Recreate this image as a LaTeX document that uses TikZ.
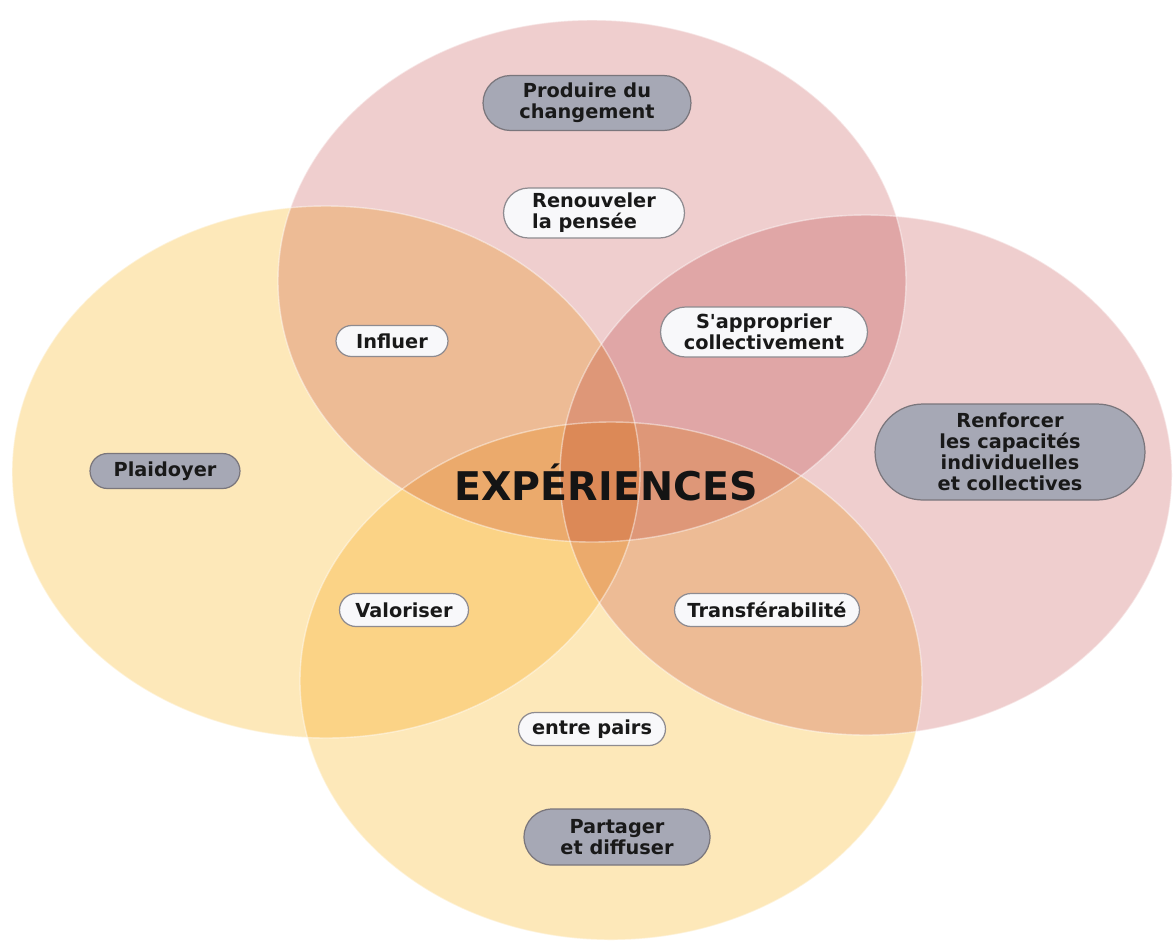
\documentclass[tikz,border=0pt]{standalone}
\usepackage{fontspec}
\setmainfont{DejaVu Sans}
\usepackage{tikz}
\usetikzlibrary{shapes.misc}
\definecolor{softpink}{RGB}{239,206,206}
\definecolor{softyellow}{RGB}{253,232,185}
\definecolor{pillgray}{RGB}{166,168,181}
\definecolor{pillline}{RGB}{122,118,124}
\definecolor{pillwhite}{RGB}{248,248,250}
\tikzset{
  vnode/.style={rounded rectangle,draw=pillline,fill=pillgray,line width=0.7pt,align=center,
    inner sep=2pt,font=\fontsize{11}{12}\selectfont\bfseries,text=black!90},
  vnodew/.style={vnode,fill=pillwhite,draw=pillline!85},
  rim/.style={draw=white,draw opacity=0.45,line width=0.8pt}
}

\begin{document}
\begin{tikzpicture}[x=0.02cm,y=-0.02cm]
  \useasboundingbox (0,0) rectangle (1173,941);

  % four overlapping zones, colours multiply where they meet
  \begin{scope}[blend group=multiply]
    \fill[softpink] (592,281) ellipse [x radius=314,y radius=261];
    \fill[softpink] (866,475) ellipse [x radius=306,y radius=260];
    \fill[softyellow] (326,472) ellipse [x radius=314,y radius=266];
    \fill[softyellow] (611,681) ellipse [x radius=311,y radius=259];
  \end{scope}
  \draw[rim] (592,281) ellipse [x radius=314,y radius=261];
  \draw[rim] (866,475) ellipse [x radius=306,y radius=260];
  \draw[rim] (326,472) ellipse [x radius=314,y radius=266];
  \draw[rim] (611,681) ellipse [x radius=311,y radius=259];

  \node[vnode,minimum width=4.3cm,minimum height=1.1cm] (change) at (587,103) {Produire du\\changement};
  \node[vnodew,align=left,minimum width=3.76cm,minimum height=1.0cm] (pensee) at (594,213) {Renouveler\\la pensée};
  \node[vnodew,minimum width=2.38cm,minimum height=0.62cm] (influer) at (392,341) {Influer};
  \node[vnodew,minimum width=4.28cm,minimum height=1.0cm] (appro) at (764,332) {S\textquotesingle approprier\\collectivement};
  \node[vnode,minimum width=5.54cm,minimum height=1.92cm] (capa) at (1010,452) {Renforcer\\les capacités\\individuelles\\et collectives};
  \node[vnode,minimum width=3.14cm,minimum height=0.7cm] (plaid) at (165,471) {Plaidoyer};
  \node[font=\fontsize{22.5}{24}\selectfont\bfseries,text=black!92] (exp) at (606,482) {EXPÉRIENCES};
  \node[vnodew,minimum width=2.72cm,minimum height=0.66cm] (valo) at (404,610) {Valoriser};
  \node[vnodew,minimum width=3.84cm,minimum height=0.66cm] (transf) at (767,610) {Transférabilité};
  \node[vnodew,minimum width=3.08cm,minimum height=0.66cm] (pairs) at (592,729) {entre pairs};
  \node[vnode,minimum width=3.86cm,minimum height=1.12cm] (partage) at (617,837) {Partager\\et diffuser};
\end{tikzpicture}
\end{document}
